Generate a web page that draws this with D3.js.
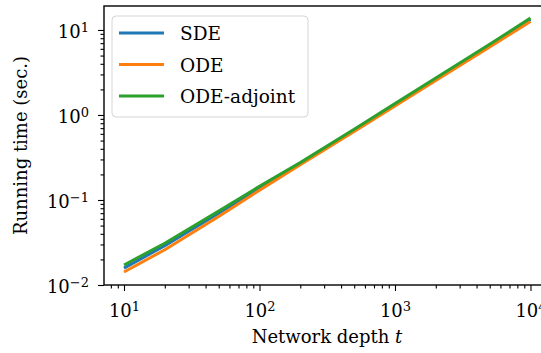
<!DOCTYPE html>
<html>
<head>
<meta charset="utf-8">
<script src="https://cdn.jsdelivr.net/npm/d3@7"></script>
<style>
  body { margin: 0; background: #fff; }
  svg { display: block; }
  svg text { font-family: "DejaVu Serif", serif; }
</style>
</head>
<body>
<div class="canvas"></div>
<script>
// data
const depths = [10, 20, 50, 100, 200, 500, 1000, 2000, 5000, 10000];
const sde = [0.0158, 0.029, 0.070, 0.138, 0.27, 0.67, 1.33, 2.65, 6.6, 13.3];
const ode = [0.0142, 0.026, 0.064, 0.130, 0.26, 0.64, 1.28, 2.55, 6.3, 12.6];
const odeAdjoint = [0.0172, 0.031, 0.074, 0.145, 0.275, 0.68, 1.36, 2.72, 6.8, 13.8];
const seriesNames = ['SDE', 'ODE', 'ODE-adjoint'];
const seriesColors = ['#1f77b4', '#ff7f0e', '#2ca02c'];
const xMajor = [10, 100, 1000, 10000];
const yMajor = [0.01, 0.1, 1, 10];

const svg = d3.select('.canvas').append('svg')
    .attr('width', 541)
    .attr('height', 353);

const pLeft = 104, pTop = 6, pRight = 550, pBottom = 285;

const x = d3.scaleLog()
    .domain([Math.pow(10, 0.8524), Math.pow(10, 4.144)])
    .range([pLeft, pRight]);

const y = d3.scaleLog()
    .domain([0.01, Math.pow(10, 1.282)])
    .range([pBottom, pTop]);

// minor ticks
const xMinor = [];
for (let e = 0; e < 5; e++) for (let m = 2; m <= 9; m++) {
  const v = m * Math.pow(10, e);
  if (v > x.domain()[0] && v < x.domain()[1]) xMinor.push(v);
}
const yMinor = [];
for (let e = -2; e < 2; e++) for (let m = 2; m <= 9; m++) {
  const v = m * Math.pow(10, e);
  if (v > y.domain()[0] && v < y.domain()[1]) yMinor.push(v);
}

const supLabel = function (d) {
  const t = d3.select(this);
  const exp = Math.round(Math.log10(d));
  t.text(null);
  t.append('tspan').text('10');
  t.append('tspan')
      .attr('dy', '-0.45em')
      .style('font-size', '13px')
      .text(exp < 0 ? '\u2212' + (-exp) : exp);
};

// x axis
svg.append('g')
    .attr('transform', `translate(0,${pBottom})`)
    .call(d3.axisBottom(x).tickValues(xMinor).tickSize(3.5).tickFormat(''));
const gx = svg.append('g')
    .attr('transform', `translate(0,${pBottom})`)
    .call(d3.axisBottom(x).tickValues(xMajor).tickSize(6).tickPadding(7));
gx.selectAll('.tick text')
    .style('font-size', '18px')
    .attr('fill', '#000')
    .attr('dy', '1.05em')
    .each(supLabel);

// y axis
svg.append('g')
    .attr('transform', `translate(${pLeft},0)`)
    .call(d3.axisLeft(y).tickValues(yMinor).tickSize(3.5).tickFormat(''));
const gy = svg.append('g')
    .attr('transform', `translate(${pLeft},0)`)
    .call(d3.axisLeft(y).tickValues(yMajor).tickSize(6).tickPadding(9));
gy.selectAll('.tick text')
    .style('font-size', '18px')
    .attr('fill', '#000')
    .attr('dy', '0.42em')
    .each(supLabel);

svg.selectAll('.domain').remove();
svg.selectAll('.tick line').attr('stroke', '#000').attr('stroke-width', 1.1);

// spines
svg.append('rect')
    .attr('x', pLeft)
    .attr('y', pTop)
    .attr('width', pRight - pLeft)
    .attr('height', pBottom - pTop)
    .attr('fill', 'none')
    .attr('stroke', '#000')
    .attr('stroke-width', 1.4);

// lines
const seriesValues = [sde, ode, odeAdjoint];
const line = d3.line()
    .x(d => x(d[0]))
    .y(d => y(d[1]));

seriesValues.forEach((vals, i) => {
  svg.append('path')
      .datum(depths.map((d, j) => [d, vals[j]]))
      .attr('d', line)
      .attr('fill', 'none')
      .attr('stroke', seriesColors[i])
      .attr('stroke-width', 3)
      .attr('stroke-linejoin', 'round');
});

// axis labels
svg.append('text')
    .attr('x', 327)
    .attr('y', 343)
    .attr('text-anchor', 'middle')
    .style('font-size', '18px')
    .html('Network depth <tspan font-style="italic">t</tspan>');

svg.append('text')
    .attr('transform', `translate(27,${(pTop + pBottom) / 2}) rotate(-90)`)
    .attr('text-anchor', 'middle')
    .style('font-size', '18px')
    .text('Running time (sec.)');

// legend
const legend = svg.append('g');
legend.append('rect')
    .attr('x', 112)
    .attr('y', 16)
    .attr('width', 196)
    .attr('height', 101)
    .attr('rx', 4)
    .attr('fill', '#fff')
    .attr('fill-opacity', 0.8)
    .attr('stroke', '#d5d5d5')
    .attr('stroke-width', 1);

seriesNames.forEach((name, i) => {
  const ly = 33 + i * 31.5;
  legend.append('line')
      .attr('x1', 119).attr('x2', 164)
      .attr('y1', ly).attr('y2', ly)
      .attr('stroke', seriesColors[i])
      .attr('stroke-width', 3);
  legend.append('text')
      .attr('x', 180)
      .attr('y', ly + 7)
      .style('font-size', '18.5px')
      .text(name);
});
</script>
</body>
</html>
